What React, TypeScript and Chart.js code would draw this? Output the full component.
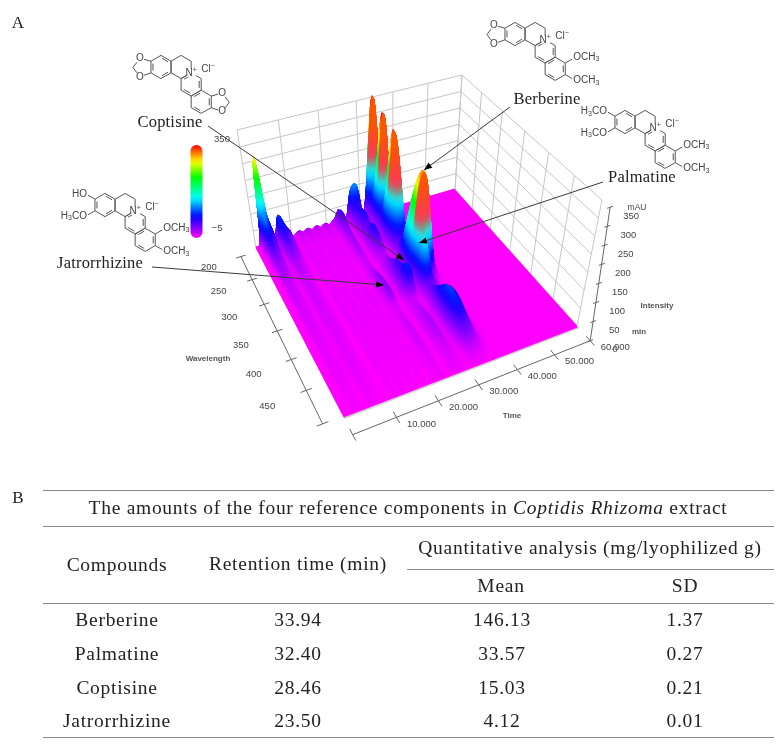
import React, { useEffect, useRef } from "react";
import { Chart, registerables } from "chart.js";

Chart.register(...registerables);

// ---------- data ----------
const wavelengthTicks = [200, 250, 300, 350, 400, 450];
const wallWavelengths = [200, 250, 300, 350, 400, 450, 500];
const timeTicks = [10, 20, 30, 40, 50, 60];
const wallTimes = [0, 10, 20, 30, 40, 50, 60];
const intensityTicks = [0, 50, 100, 150, 200, 250, 300, 350];

const spectrumWavelengths = [200, 206, 216, 236, 250, 266, 300, 345, 365, 385, 425, 500];
const berberineUvSpectrum = [90, 340, 90, 330, 90, 310, 25, 0, 0, 0, 0, 0];
const berberineVisSpectrum = [0, 0, 0, 0, 0, 0, 15, 295, 45, 28, 80, 1];
const palmatineSpectrum = [30, 90, 55, 65, 60, 80, 35, 50, 115, 25, 30, 2];
const coptisineSpectrum = [40, 100, 50, 60, 45, 60, 20, 55, 80, 12, 20, 3];
const unknown27Spectrum = [30, 75, 50, 30, 25, 25, 10, 20, 18, 8, 10, 3];
const jatrorrhizineSpectrum = [20, 45, 50, 30, 25, 22, 12, 30, 30, 8, 12, 3];
const solventSpectrum = [130, 255, 100, 55, 35, 25, 12, 8, 7, 6, 4, 1];
const shoulderSpectrum = [30, 70, 65, 40, 25, 18, 10, 7, 6, 5, 4, 1];
const early7Spectrum = [20, 75, 70, 45, 30, 18, 10, 8, 7, 6, 5, 2];
const early8Spectrum = [12, 35, 45, 30, 20, 12, 8, 6, 6, 5, 4, 1];
const minorSpectrum = [10, 18, 8, 5, 4, 4, 3, 4, 4, 3, 3, 1];

const peakTimes = [33.94, 33.94, 32.4, 28.46, 27, 23.5, 2.5, 3.8, 6.7, 8.3, 12, 14.5, 17, 19.5, 22];
const peakWidths = [0.95, 1.6, 0.8, 0.8, 0.7, 0.7, 0.5, 0.6, 0.7, 0.8, 0.7, 0.7, 0.7, 0.7, 0.7];
const peakSpectra = [
  berberineUvSpectrum, berberineVisSpectrum, palmatineSpectrum, coptisineSpectrum, unknown27Spectrum, jatrorrhizineSpectrum,
  solventSpectrum, shoulderSpectrum, early7Spectrum, early8Spectrum,
  minorSpectrum, minorSpectrum, minorSpectrum, minorSpectrum, minorSpectrum,
];

const compounds = ["Berberine", "Palmatine", "Coptisine", "Jatrorrhizine"];
const retentionTimes = ["33.94", "32.40", "28.46", "23.50"];
const means = ["146.13", "33.57", "15.03", "4.12"];
const sds = ["1.37", "0.27", "0.21", "0.01"];

// ---------- projection ----------
type P = [number, number];
function quad(p0: P, p1: P, p2: P, p3: P) {
  const dx1 = p1[0] - p2[0], dx2 = p3[0] - p2[0], sx = p0[0] - p1[0] + p2[0] - p3[0];
  const dy1 = p1[1] - p2[1], dy2 = p3[1] - p2[1], sy = p0[1] - p1[1] + p2[1] - p3[1];
  const den = dx1 * dy2 - dx2 * dy1;
  const g = (sx * dy2 - dx2 * sy) / den, h = (dx1 * sy - sx * dy1) / den;
  const a = p1[0] - p0[0] + g * p1[0], b = p3[0] - p0[0] + h * p3[0], c = p0[0];
  const d = p1[1] - p0[1] + g * p1[1], e = p3[1] - p0[1] + h * p3[1], f = p0[1];
  return (u: number, v: number): P => {
    const w = g * u + h * v + 1;
    return [(a * u + b * v + c) / w, (d * u + e * v + f) / w];
  };
}
const floorPlane = quad([256, 248], [455, 190], [577, 326], [343, 416]);
const topPlane = quad([237, 130], [462, 75], [602, 200], [339, 290]);
function project(t: number, wl: number, z: number): P {
  const u = t / 60, v = (wl - 200) / 300, k = z / 350;
  const a = floorPlane(u, v), b = topPlane(u, v);
  return [a[0] + (b[0] - a[0]) * k, a[1] + (b[1] - a[1]) * k];
}
const pt = (p: P) => ({ x: p[0], y: p[1] });

// ---------- surface ----------
const colourTop = 340;
function spectrumAt(s: number[], wl: number) {
  const k = spectrumWavelengths;
  for (let i = 0; i < k.length - 1; i++) {
    if (wl <= k[i + 1]) {
      const r = (wl - k[i]) / (k[i + 1] - k[i]);
      const q = r * r * (3 - 2 * r);
      return s[i] + (s[i + 1] - s[i]) * q;
    }
  }
  return s[s.length - 1];
}
function surfaceAt(t: number, amps: number[]) {
  let z = 0;
  for (let i = 0; i < peakTimes.length; i++) {
    const d = (t - peakTimes[i]) / peakWidths[i];
    if (Math.abs(d) < 4) z += amps[i] * Math.exp(-0.5 * d * d);
  }
  return z;
}
const hueFs = [0, 0.23, 0.43, 0.65, 0.82, 1];
const hueVals = [300, 240, 180, 120, 60, 0];
function hueOf(f: number) {
  for (let i = 0; i < hueFs.length - 1; i++) {
    if (f <= hueFs[i + 1]) return hueVals[i] + ((hueVals[i + 1] - hueVals[i]) * (f - hueFs[i])) / (hueFs[i + 1] - hueFs[i]);
  }
  return 0;
}
function hsl2rgb(h: number): number[] {
  const x = (n: number) => {
    const k = (n + h / 30) % 12;
    return 255 * (0.5 - 0.5 * Math.max(-1, Math.min(k - 3, 9 - k, 1)));
  };
  return [x(0), x(8), x(4)];
}
function rowColour(f: number, s: number) {
  const base = hsl2rgb(hueOf(f));
  const q = Math.min(1, f / 0.85);
  const pink = [255 - 5 * q, 85 * q, 255 * (1 - q)];
  const m = s * Math.max(0, Math.min(1, (f - 0.42) / 0.15));
  const c = base.map((b, i) => Math.round(b + (pink[i] - b) * m));
  return `rgb(${c[0]},${c[1]},${c[2]})`;
}

function App() {
  const ref = useRef<HTMLCanvasElement | null>(null);
  useEffect(() => {
    const canvas = ref.current!;
    const ctx0 = canvas.getContext("2d")!;
    const sets: any[] = [];
    const add = (data: any[], o: any) => sets.push({ type: "line", data, pointRadius: 0, borderWidth: 1, tension: 0, fill: false, parsing: false, order: -sets.length, ...o });
    const grid = "#c6c6c6";
    const axis = "#666666";

    // walls
    for (const t of wallTimes) add([pt(project(t, 200, 0)), pt(project(t, 200, 350))], { borderColor: grid });
    for (const w of wallWavelengths) add([pt(project(60, w, 0)), pt(project(60, w, 350))], { borderColor: grid });
    for (const z of intensityTicks) {
      add([pt(project(0, 200, z)), pt(project(60, 200, z))], { borderColor: grid });
      add([pt(project(60, 200, z)), pt(project(60, 500, z))], { borderColor: grid });
    }
    // axes
    const wlAxisT = -4.6, tAxisW = 526;
    const axisW = (w: number) => w + ((500 - w) * 8) / 300;
    const axisZ = (z: number) => project(60, tAxisW - (12 * z) / 350, z);
    add([pt(project(wlAxisT, axisW(200), 0)), pt(project(wlAxisT, 500, 0))], { borderColor: axis });
    add([pt(project(0, tAxisW, 0)), pt(project(60, tAxisW, 0))], { borderColor: axis });
    add([pt(axisZ(0)), pt(axisZ(350))], { borderColor: axis });
    for (const w of wallWavelengths) add([pt(project(wlAxisT - 1.3, axisW(w), 0)), pt(project(wlAxisT + 1.3, axisW(w), 0))], { borderColor: axis });
    for (const t of wallTimes) add([pt(project(t, tAxisW - 8, 0)), pt(project(t, tAxisW + 8, 0))], { borderColor: axis });
    for (const z of intensityTicks) {
      const p = axisZ(z);
      add([{ x: p[0] - 3, y: p[1] + 1 }, { x: p[0] + 3, y: p[1] - 1 }], { borderColor: axis });
    }

    // floor
    add([pt(project(0, 503, 0)), pt(project(60, 503, 0))], { borderColor: "#cfcfcf", borderWidth: 2 });
    for (let w = 200; w <= 500; w += 2) add([pt(project(0, w, 0)), pt(project(60, w, 0))], { borderColor: "#ff00ff", borderWidth: 3, borderCapStyle: "butt" });

    // surface rows, back to front
    const rows: number[] = [];
    for (let w = 200; w < 225; w += 0.25) rows.push(w);
    for (let w = 225; w < 400; w += 0.5) rows.push(w);
    for (let w = 400; w <= 500; w += 1) rows.push(w);
    const splitTime = 15;
    let prevMax = 0;
    let prevW = 200;
    for (const w of rows) {
      const amps = peakSpectra.map((s) => spectrumAt(s, w));
      const early: any[] = [];
      const late: any[] = [];
      let rowMax = 0;
      for (let i = 0; i <= 230; i++) {
        const t = i * 0.2;
        const z = surfaceAt(t, amps);
        const d = z < 0.6 ? { x: project(t, w, 0)[0], y: NaN } : pt(project(t, w, z));
        if (t <= splitTime + 0.01) early.push(d);
        if (t >= splitTime - 0.01) {
          late.push(d);
          if (z > rowMax) rowMax = z;
        }
      }
      const a = project(34, w, 0), top = project(34, w, colourTop);
      const b0 = project(0, w, 0), b1 = project(60, w, 0);
      const dx = b1[0] - b0[0], dy = b1[1] - b0[1], len = Math.hypot(dx, dy);
      const nx = -dy / len, ny = dx / len;
      const proj = (top[0] - a[0]) * nx + (top[1] - a[1]) * ny;
      const makeGrad = (s: number) => {
        const g = ctx0.createLinearGradient(a[0], a[1], a[0] + nx * proj, a[1] + ny * proj);
        for (let i = 0; i <= 20; i++) g.addColorStop(i / 20, rowColour(i / 20, s));
        return g;
      };
      const slope = w > prevW ? (prevMax - rowMax) / (w - prevW) : 0;
      const s = rowMax > 90 ? Math.min(1, Math.max(0, slope / 2)) : 0;
      add(early, { borderColor: makeGrad(0), borderWidth: 2.2, borderCapStyle: "butt", spanGaps: false });
      add(late, { borderColor: makeGrad(s), borderWidth: 2.2, borderCapStyle: "butt", spanGaps: false });
      prevMax = rowMax;
      prevW = w;
    }

    // colour bar
    const barGrad = ctx0.createLinearGradient(0, 238, 0, 145);
    for (let i = 0; i <= 20; i++) barGrad.addColorStop(i / 20, rowColour(i / 20, 0));
    add([{ x: 196.5, y: 151 }, { x: 196.5, y: 232 }], { borderColor: barGrad, borderWidth: 12, borderCapStyle: "round" });

    const text = (c: CanvasRenderingContext2D, s: string, x: number, y: number, font: string, color = "#333", spacing = "0px") => {
      c.font = font;
      c.fillStyle = color;
      (c as any).letterSpacing = spacing;
      c.textAlign = "center";
      c.textBaseline = "middle";
      c.fillText(s, x, y);
      (c as any).letterSpacing = "0px";
    };
    const arrow = (c: CanvasRenderingContext2D, x0: number, y0: number, x1: number, y1: number) => {
      const a = Math.atan2(y1 - y0, x1 - x0);
      c.strokeStyle = "#3a3a3a";
      c.lineWidth = 1;
      c.beginPath(); c.moveTo(x0, y0); c.lineTo(x1, y1); c.stroke();
      c.fillStyle = "#000";
      c.beginPath();
      c.moveTo(x1, y1);
      c.lineTo(x1 - 8 * Math.cos(a) - 3.2 * Math.sin(a), y1 - 8 * Math.sin(a) + 3.2 * Math.cos(a));
      c.lineTo(x1 - 8 * Math.cos(a) + 3.2 * Math.sin(a), y1 - 8 * Math.sin(a) - 3.2 * Math.cos(a));
      c.closePath(); c.fill();
    };
    const subText = (c: CanvasRenderingContext2D, parts: [string, number][], x: number, y: number, align: "left" | "right" | "center") => {
      const big = "10px 'Liberation Sans'", small = "7px 'Liberation Sans'";
      let w = 0;
      for (const [s, k] of parts) { c.font = k ? small : big; w += c.measureText(s).width; }
      let px = align === "left" ? x : align === "right" ? x - w : x - w / 2;
      c.fillStyle = "#444";
      c.textAlign = "left";
      c.textBaseline = "middle";
      for (const [s, k] of parts) {
        c.font = k ? small : big;
        c.fillText(s, px, y + (k === 1 ? 2.5 : k === 2 ? -3 : 0));
        px += c.measureText(s).width;
      }
    };
    const molecule = (c: CanvasRenderingContext2D, cx: number, cy: number, left: string, right: string) => {
      const L = 11.6, S = 10.05;
      const hex = (x: number, y: number): P[] => [[x, y - L], [x + S, y - L / 2], [x + S, y + L / 2], [x, y + L], [x - S, y + L / 2], [x - S, y - L / 2]];
      const centres: P[] = [[cx, cy], [cx + 2 * S, cy], [cx + 3 * S, cy + 1.5 * L], [cx + 4 * S, cy + 3 * L]];
      const doubles = [[0, 2, 4], [], [5, 1, 3], [1, 3, 5]];
      c.strokeStyle = "#555";
      c.lineWidth = 1;
      centres.forEach((ce, idx) => {
        const h = hex(ce[0], ce[1]);
        c.beginPath();
        h.forEach((p, i) => (i ? c.lineTo(p[0], p[1]) : c.moveTo(p[0], p[1])));
        c.closePath(); c.stroke();
        for (const e of doubles[idx]) {
          const a = h[e], b = h[(e + 1) % 6];
          const sh = (p: P, o: P): P => [p[0] + (ce[0] - p[0]) * 0.2 + (o[0] - p[0]) * 0.1, p[1] + (ce[1] - p[1]) * 0.2 + (o[1] - p[1]) * 0.1];
          const A = sh(a, b), B = sh(b, a);
          c.beginPath(); c.moveTo(A[0], A[1]); c.lineTo(B[0], B[1]); c.stroke();
        }
      });
      const seg = (a: P, b: P) => { c.beginPath(); c.moveTo(a[0], a[1]); c.lineTo(b[0], b[1]); c.stroke(); };
      const r1 = hex(cx, cy), r4 = hex(centres[3][0], centres[3][1]);
      const dioxole = (top: P, bot: P, sign: number) => {
        const o1: P = [top[0] + sign * 11, top[1] - 3], o2: P = [bot[0] + sign * 11, bot[1] + 4];
        const m: P = [o1[0] + sign * 7, (o1[1] + o2[1]) / 2];
        seg(top, o1); seg(bot, o2); seg(o1, m); seg(o2, m);
        for (const o of [o1, o2]) { c.fillStyle = "#fff"; c.fillRect(o[0] - 4, o[1] - 4, 8, 8); }
        text(c, "O", o1[0], o1[1], "10px 'Liberation Sans'", "#444");
        text(c, "O", o2[0], o2[1], "10px 'Liberation Sans'", "#444");
      };
      if (right === "dioxole") dioxole(r4[1], r4[2], 1);
      else {
        seg(r4[1], [r4[1][0] + 7, r4[1][1] - 4]);
        seg(r4[2], [r4[2][0] + 7, r4[2][1] + 4]);
        subText(c, [["OCH", 0], ["3", 1]], r4[1][0] + 8, r4[1][1] - 6, "left");
        subText(c, [["OCH", 0], ["3", 1]], r4[2][0] + 8, r4[2][1] + 6, "left");
      }
      if (left === "dioxole") dioxole(r1[5], r1[4], -1);
      else {
        seg(r1[5], [r1[5][0] - 7, r1[5][1] - 4]);
        seg(r1[4], [r1[4][0] - 7, r1[4][1] + 4]);
        if (left === "hydroxy") subText(c, [["HO", 0]], r1[5][0] - 8, r1[5][1] - 5, "right");
        else subText(c, [["H", 0], ["3", 1], ["CO", 0]], r1[5][0] - 8, r1[5][1] - 5, "right");
        subText(c, [["H", 0], ["3", 1], ["CO", 0]], r1[4][0] - 8, r1[4][1] + 5, "right");
      }
      const nx = cx + 3 * S, ny = cy + L / 2;
      c.fillStyle = "#fff"; c.fillRect(nx - 4, ny - 4, 9, 8);
      subText(c, [["N", 0], ["+", 2]], nx, ny, "center");
      subText(c, [["Cl", 0], ["−", 2]], cx + 47, cy + 2, "center");
    };

    const decor = {
      id: "decor",
      afterDatasetsDraw(chart: any) {
        const c: CanvasRenderingContext2D = chart.ctx;
        c.save();
        const sans = "9.5px 'Liberation Sans'";
        const ink = "#444";
        for (const w of wavelengthTicks) {
          const p = project(wlAxisT, axisW(w), 0), k = (w - 200) / 250;
          text(c, String(w), p[0] - 32 - 7 * k, p[1] + 11 + 5 * k, sans, ink);
        }
        for (const t of timeTicks) { const p = project(t, tAxisW, 0); text(c, t.toFixed(3), p[0] + 25, p[1] + 7, sans, ink); }
        for (const z of intensityTicks) { const p = axisZ(z); text(c, String(z), p[0] + 21 + (z === 0 ? 4 : 0), p[1] + 9, sans, ink); }
        text(c, "Wavelength", 208, 359, "bold 8px 'Liberation Sans'", "#555");
        text(c, "Time", 512, 416, "bold 8px 'Liberation Sans'", "#555");
        text(c, "Intensity", 657, 306, "bold 8px 'Liberation Sans'", "#555");
        text(c, "min", 639, 332, "bold 8px 'Liberation Sans'", "#555");
        text(c, "mAU", 637, 208, "8.5px 'Liberation Sans'", ink);
        text(c, "350", 222, 139, sans, ink);
        text(c, "−5", 217, 228, sans, ink);
        arrow(c, 208, 126, 404, 260);
        arrow(c, 152, 267, 384, 285);
        arrow(c, 510, 107, 424, 170);
        arrow(c, 603, 182, 419, 243);
        const serif = "16.5px 'Liberation Serif'";
        text(c, "Coptisine", 170, 123, serif, "#222", "0.2px");
        text(c, "Jatrorrhizine", 100, 264, serif, "#222", "0.2px");
        text(c, "Berberine", 547, 100, serif, "#222", "0.2px");
        text(c, "Palmatine", 642, 178, serif, "#222", "0.2px");
        text(c, "A", 18, 24, "17px 'Liberation Serif'", "#222");
        molecule(c, 161, 67, "dioxole", "dioxole");
        molecule(c, 105, 205, "hydroxy", "dimethoxy");
        molecule(c, 515, 34, "dioxole", "dimethoxy");
        molecule(c, 625, 122, "dimethoxy", "dimethoxy");
        c.restore();
      },
    };

    const chart = new Chart(canvas, {
      type: "line",
      data: { datasets: sets },
      options: {
        animation: false,
        responsive: false,
        devicePixelRatio: 1,
        parsing: false,
        normalized: true,
        events: [],
        layout: { padding: 0 },
        scales: {
          x: { type: "linear", min: 0, max: 780, display: false },
          y: { type: "linear", min: 0, max: 749, reverse: true, display: false },
        },
        plugins: { legend: { display: false }, tooltip: { enabled: false }, title: { display: false } },
      } as any,
      plugins: [decor as any],
    });
    return () => chart.destroy();
  }, []);

  const serif = "'Liberation Serif', serif";
  const cell = (key: string, s: React.ReactNode, x: number, y: number, size = 19.5, spacing = 0.72) => (
    <div key={key} style={{ position: "absolute", left: x, top: y, transform: "translate(-50%,-50%)", whiteSpace: "nowrap", fontFamily: serif, fontSize: size, letterSpacing: spacing, color: "#222", lineHeight: 1 }}>{s}</div>
  );
  const rule = (key: string, x0: number, y: number) => (
    <div key={key} style={{ position: "absolute", left: x0, width: 774 - x0, top: y - 0.5, height: 1.4, background: "#8a8a8a" }} />
  );
  const rowYs = [620, 654, 688, 721];
  return (
    <div style={{ position: "absolute", left: 0, top: 0, width: 780, height: 749, overflow: "hidden", background: "#fff", filter: "blur(0.4px)" }}>
      <canvas ref={ref} width={780} height={749} style={{ position: "absolute", left: 0, top: 0, width: 780, height: 749, display: "block" }} />
      {cell("b", "B", 18, 497, 17, 0)}
      {rule("r1", 43, 490)}
      {rule("r2", 43, 526)}
      {rule("r3", 407, 569)}
      {rule("r4", 43, 603)}
      {rule("r5", 43, 737)}
      {cell("title", <span>The amounts of the four reference components in <i>Coptidis Rhizoma</i> extract</span>, 408, 508)}
      {cell("h1", "Compounds", 117, 565)}
      {cell("h2", "Retention time (min)", 298, 564)}
      {cell("h3", "Quantitative analysis (mg/lyophilized g)", 590, 548)}
      {cell("h4", "Mean", 501, 586)}
      {cell("h5", "SD", 685, 586)}
      {compounds.map((c, i) => cell("c" + i, c, 117, rowYs[i]))}
      {retentionTimes.map((c, i) => cell("t" + i, c, 298, rowYs[i]))}
      {means.map((c, i) => cell("m" + i, c, 502, rowYs[i]))}
      {sds.map((c, i) => cell("s" + i, c, 685, rowYs[i]))}
    </div>
  );
}

export default App;
